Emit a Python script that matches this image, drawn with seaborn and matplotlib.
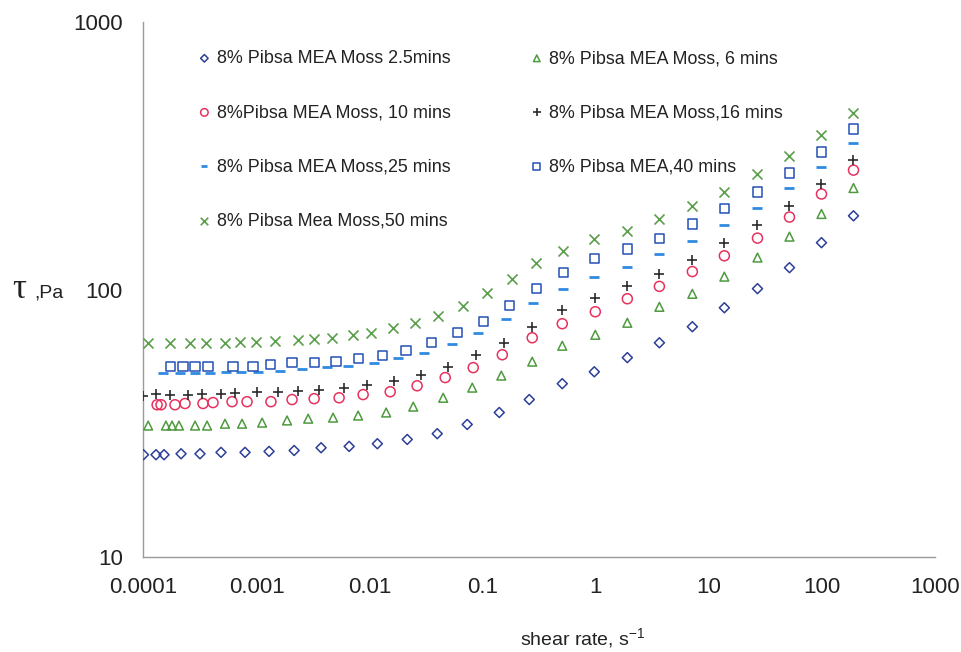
import matplotlib
matplotlib.use("Agg")
import matplotlib.pyplot as plt
from matplotlib.ticker import FixedLocator, FixedFormatter, NullLocator
import pandas as pd
import seaborn as sns

# ---- data: shear stress (Pa) vs shear rate (1/s) for each mixing time ----
labels = [
    "8% Pibsa MEA Moss 2.5mins",
    "8% Pibsa MEA Moss, 6 mins",
    "8%Pibsa MEA Moss, 10 mins",
    "8% Pibsa MEA Moss,16 mins",
    "8% Pibsa MEA Moss,25 mins",
    "8% Pibsa MEA,40 mins",
    "8% Pibsa Mea Moss,50 mins",
]

rate_2p5 = [1.0e-4, 1.29e-4, 1.52e-4, 2.15e-4, 3.16e-4, 4.85e-4, 7.91e-4, 1.29e-3, 2.15e-3,
            3.72e-3, 6.59e-3, 1.17e-2, 2.15e-2, 3.96e-2, 7.29e-2, 0.140, 0.258, 0.505, 0.97,
            1.90, 3.65, 7.14, 13.7, 26.9, 51.6, 99.0, 190]
tau_2p5 = [24.2, 24.2, 24.2, 24.4, 24.4, 24.7, 24.7, 24.9, 25.1, 25.7, 26.0, 26.6, 27.6, 29.0,
           31.4, 34.8, 38.9, 44.6, 49.4, 55.8, 63.4, 72.8, 85.7, 101, 121, 150, 189]

rate_6 = [1.10e-4, 1.58e-4, 1.79e-4, 2.06e-4, 2.86e-4, 3.65e-4, 5.26e-4, 7.44e-4, 1.12e-3,
          1.86e-3, 2.86e-3, 4.75e-3, 7.91e-3, 1.40e-2, 2.43e-2, 4.47e-2, 8.08e-2, 0.146, 0.274,
          0.505, 0.99, 1.90, 3.65, 7.14, 13.7, 26.9, 51.6, 99.0, 190]
tau_6 = [31.1, 31.1, 31.1, 31.1, 31.1, 31.1, 31.6, 31.6, 31.9, 32.5, 33.0, 33.3, 33.9, 34.8,
         36.6, 39.5, 43.1, 47.8, 53.9, 61.8, 67.9, 75.3, 86.4, 96.6, 112, 132, 158, 192, 240]

rate_10 = [1.32e-4, 1.43e-4, 1.90e-4, 2.33e-4, 3.36e-4, 4.12e-4, 6.07e-4, 8.24e-4, 1.34e-3,
           2.06e-3, 3.23e-3, 5.37e-3, 8.76e-3, 1.52e-2, 2.63e-2, 4.66e-2, 8.24e-2, 0.149, 0.274,
           0.505, 0.99, 1.90, 3.65, 7.14, 13.7, 26.9, 51.6, 99.0, 190]
tau_10 = [37.2, 37.2, 37.2, 37.6, 37.6, 37.9, 38.2, 38.2, 38.2, 38.9, 39.2, 39.5, 40.6, 41.6,
          43.8, 47.0, 51.2, 57.2, 66.2, 74.7, 82.8, 92.6, 103, 117, 134, 156, 187, 228, 280]

rate_16 = [1.0e-4, 1.29e-4, 1.72e-4, 2.48e-4, 3.29e-4, 4.85e-4, 6.45e-4, 1.01e-3, 1.55e-3,
           2.33e-3, 3.57e-3, 5.95e-3, 9.50e-3, 1.65e-2, 2.86e-2, 4.95e-2, 8.76e-2, 0.155, 0.274,
           0.505, 0.99, 1.90, 3.65, 7.14, 13.7, 26.9, 51.6, 99.0, 190]
tau_16 = [40.2, 40.9, 40.6, 40.6, 40.9, 40.9, 41.3, 41.6, 41.6, 42.0, 42.4, 43.1, 44.2, 45.8,
          48.2, 51.6, 57.2, 63.4, 72.8, 84.2, 93.4, 103, 115, 129, 150, 175, 206, 249, 306]

rate_25 = [1.49e-4, 2.10e-4, 2.86e-4, 3.88e-4, 5.37e-4, 7.29e-4, 1.03e-3, 1.61e-3, 2.53e-3,
           4.21e-3, 6.45e-3, 1.10e-2, 1.79e-2, 3.04e-2, 5.37e-2, 9.13e-2, 0.161, 0.280, 0.516,
           0.97, 1.90, 3.65, 7.14, 13.7, 26.9, 51.6, 99.0, 190]
tau_25 = [49.0, 49.0, 49.0, 49.0, 49.4, 49.4, 49.4, 49.9, 50.7, 51.6, 52.1, 53.4, 55.8, 58.2,
          62.9, 69.1, 78.0, 89.5, 101, 112, 122, 136, 152, 175, 202, 240, 288, 354]

rate_40 = [1.72e-4, 2.24e-4, 2.86e-4, 3.72e-4, 6.20e-4, 9.31e-4, 1.32e-3, 2.06e-3, 3.23e-3,
           5.05e-3, 7.91e-3, 1.29e-2, 2.10e-2, 3.50e-2, 5.95e-2, 0.101, 0.172, 0.297, 0.516,
           0.97, 1.90, 3.65, 7.14, 13.7, 26.9, 51.6, 99.0, 190]
tau_40 = [51.6, 51.6, 51.6, 51.6, 51.6, 51.6, 52.5, 53.4, 53.4, 53.9, 55.3, 56.7, 59.2, 63.4,
          69.1, 76.0, 87.2, 101, 116, 131, 142, 156, 176, 201, 232, 273, 327, 399]

rate_50 = [1.10e-4, 1.72e-4, 2.58e-4, 3.57e-4, 5.26e-4, 7.14e-4, 9.90e-4, 1.46e-3, 2.33e-3,
           3.23e-3, 4.66e-3, 7.14e-3, 1.03e-2, 1.61e-2, 2.53e-2, 4.04e-2, 6.72e-2, 0.110, 0.182,
           0.297, 0.516, 0.97, 1.90, 3.65, 7.14, 13.7, 26.9, 51.6, 99.0, 190]
tau_50 = [63.4, 63.4, 63.4, 63.4, 63.4, 64.0, 64.0, 64.5, 65.1, 65.6, 66.2, 67.9, 69.1, 72.1,
          75.3, 80.0, 87.2, 97.5, 110, 126, 140, 155, 166, 184, 206, 232, 271, 316, 379, 458]

x_ticks = [1e-4, 1e-3, 1e-2, 1e-1, 1, 10, 100, 1000]
x_tick_labels = ["0.0001", "0.001", "0.01", "0.1", "1", "10", "100", "1000"]
y_ticks = [10, 100, 1000]
y_tick_labels = ["10", "100", "1000"]

# ---- styling per series: (marker, colour, size, hollow, line width) ----
styles = [
    ("D", "#2d3f96", 26, True, 1.1),
    ("^", "#4e9a3e", 40, True, 1.1),
    ("o", "#e8325e", 52, True, 1.1),
    ("+", "#2b2b2b", 60, False, 1.2),
    ("_", "#2f8ae0", 42, False, 2.0),
    ("s", "#2450b6", 44, True, 1.1),
    ("x", "#5b9e4c", 52, False, 1.2),
]

series = [(rate_2p5, tau_2p5), (rate_6, tau_6), (rate_10, tau_10), (rate_16, tau_16),
          (rate_25, tau_25), (rate_40, tau_40), (rate_50, tau_50)]

frames = []
for lab, (r, t) in zip(labels, series):
    frames.append(pd.DataFrame({"rate": r, "tau": t, "sample": lab}))
df = pd.concat(frames, ignore_index=True)

sns.set_theme(style="white")
plt.rcParams["font.family"] = ["Liberation Sans", "DejaVu Sans"]
plt.rcParams["mathtext.default"] = "regular"

fig = plt.figure(figsize=(9.61, 6.52), dpi=100)
fig.patch.set_facecolor("white")
ax = fig.add_axes([0.1493, 0.145, 0.8237, 0.821])
ax.set_facecolor("white")

handles = []
for lab, (mk, col, sz, hollow, lw) in zip(labels, styles):
    sub = df[df["sample"] == lab]
    if hollow:
        sns.scatterplot(data=sub, x="rate", y="tau", ax=ax, marker=mk, s=sz,
                        color=col, facecolor="none", edgecolor=col, linewidth=lw,
                        label=lab, zorder=3)
    else:
        sns.scatterplot(data=sub, x="rate", y="tau", ax=ax, marker=mk, s=sz,
                        color=col, linewidth=lw, label=lab, zorder=3)
    handles.append(ax.collections[-1])

ax.set_xscale("log")
ax.set_yscale("log")
ax.set_xlim(1e-4, 1e3)
ax.set_ylim(10, 1000)

ax.xaxis.set_major_locator(FixedLocator(x_ticks))
ax.xaxis.set_major_formatter(FixedFormatter(x_tick_labels))
ax.yaxis.set_major_locator(FixedLocator(y_ticks))
ax.yaxis.set_major_formatter(FixedFormatter(y_tick_labels))
ax.xaxis.set_minor_locator(NullLocator())
ax.yaxis.set_minor_locator(NullLocator())

for side in ("top", "right"):
    ax.spines[side].set_visible(False)
for side in ("left", "bottom"):
    ax.spines[side].set_color("#9a9a9a")
    ax.spines[side].set_linewidth(1.0)

ax.tick_params(axis="both", which="major", direction="out", length=5, width=1,
               color="#9a9a9a", labelcolor="#222222", labelsize=16)
ax.tick_params(axis="x", pad=9)
ax.tick_params(axis="y", pad=10)
ax.set_xlabel("")
ax.set_ylabel("")

# axis titles
fig.text(583 / 961, 0.022, "shear rate, s$^{-1}$", ha="center", va="center",
         fontsize=14, color="#222222")
fig.text(12 / 961, 0.543, "τ", ha="left", va="baseline", fontsize=25,
         family=["Liberation Serif", "DejaVu Serif"], color="#222222")
fig.text(34 / 961, 0.543, ",Pa", ha="left", va="baseline", fontsize=14, color="#222222")

# legend: two columns, filled row by row
order = [0, 2, 4, 6, 1, 3, 5]
leg = ax.legend([handles[i] for i in order], [labels[i] for i in order],
                ncol=2, loc="upper left", bbox_to_anchor=(0.069, 0.948),
                frameon=False, fontsize=12.9, labelspacing=2.07, handlelength=0.7,
                handletextpad=0.35, columnspacing=4.45, borderpad=0, borderaxespad=0,
                markerscale=0.75)
for txt in leg.get_texts():
    txt.set_color("#222222")

fig.savefig("out.png", dpi=100, facecolor="white")
